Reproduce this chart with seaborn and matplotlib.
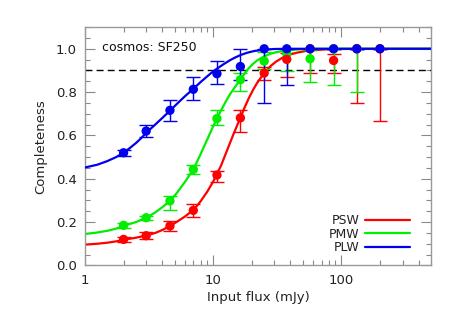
import numpy as np
import pandas as pd
import matplotlib
matplotlib.use("Agg")
import matplotlib.pyplot as plt
from matplotlib.ticker import MultipleLocator, LogLocator, NullFormatter, FixedLocator, FixedFormatter
import seaborn as sns

# ---- measured points ----
psw_x = [2, 3, 4.6, 7, 10.7, 16.3, 25, 37.5, 57, 87, 132, 200]
psw_y = [0.12, 0.137, 0.182, 0.254, 0.417, 0.681, 0.888, 0.951, 1.0, 0.946, 1.0, 1.0]
psw_lo = [0.012, 0.015, 0.025, 0.03, 0.031, 0.065, 0.031, 0.079, 0.111, 0.058, 0.249, 0.333]
psw_hi = [0.012, 0.015, 0.022, 0.03, 0.02, 0.035, 0.027, 0.03, 0.0, 0.03, 0.0, 0.0]

pmw_x = [2, 3, 4.6, 7, 10.7, 16.3, 25, 37.5, 57, 87, 132]
pmw_y = [0.185, 0.22, 0.298, 0.443, 0.678, 0.857, 0.943, 0.977, 0.954, 1.0, 1.0]
pmw_lo = [0.012, 0.01, 0.04, 0.02, 0.028, 0.05, 0.035, 0.08, 0.108, 0.166, 0.2]
pmw_hi = [0.012, 0.01, 0.022, 0.02, 0.038, 0.032, 0.04, 0.02, 0.04, 0.0, 0.0]

plw_x = [2, 3, 4.6, 7, 10.7, 16.3, 25, 37.5, 57, 87, 132, 200]
plw_y = [0.52, 0.62, 0.716, 0.813, 0.885, 0.918, 1.0, 1.0, 1.0, 1.0, 1.0, 1.0]
plw_lo = [0.015, 0.028, 0.048, 0.05, 0.047, 0.06, 0.25, 0.166, 0.0, 0.0, 0.0, 0.0]
plw_hi = [0.015, 0.028, 0.048, 0.055, 0.058, 0.08, 0.0, 0.0, 0.0, 0.0, 0.0, 0.0]

# ---- fitted curves ----
fit_psw_x = [1, 1.25, 1.5, 1.75, 2, 2.5, 3, 3.5, 4, 4.6, 5.2, 6, 7, 7.5, 8, 9, 10,
             11.5, 12.5, 13.5, 14.5, 15.5, 16.3, 17.5, 19, 20.5, 22, 25, 28, 31, 35,
             40, 45, 52, 60, 75, 100, 500]
fit_psw_y = [0.096, 0.1, 0.105, 0.111, 0.118, 0.128, 0.138, 0.149, 0.163, 0.182, 0.201,
             0.225, 0.256, 0.276, 0.297, 0.341, 0.387, 0.46, 0.514, 0.564, 0.61, 0.651,
             0.681, 0.726, 0.773, 0.811, 0.842, 0.888, 0.92, 0.941, 0.96, 0.974, 0.982,
             0.989, 0.993, 0.997, 0.999, 1.0]

fit_pmw_x = [1, 1.25, 1.5, 1.75, 2, 2.5, 3, 3.5, 4, 4.6, 5.2, 6, 7, 7.5, 8, 8.5, 9, 9.5,
             10, 10.7, 11.5, 12.5, 13.5, 14.5, 15.5, 16.3, 17.5, 19, 20.5, 22, 25, 28,
             31, 35, 40, 50, 60, 500]
fit_pmw_y = [0.145, 0.152, 0.16, 0.17, 0.183, 0.2, 0.22, 0.243, 0.268, 0.298, 0.334,
             0.384, 0.443, 0.48, 0.515, 0.55, 0.582, 0.613, 0.642, 0.678, 0.715, 0.755,
             0.789, 0.816, 0.84, 0.857, 0.884, 0.911, 0.931, 0.946, 0.965, 0.977, 0.984,
             0.99, 0.994, 0.998, 1.0, 1.0]

fit_plw_x = [1, 1.25, 1.5, 1.75, 2, 2.25, 2.5, 2.75, 3, 3.5, 4, 4.6, 5.2, 6, 7, 8, 9, 10,
             11, 12, 13.5, 15, 16.5, 18.5, 21, 25, 30, 40, 500]
fit_plw_y = [0.452, 0.465, 0.482, 0.5, 0.52, 0.543, 0.565, 0.588, 0.612, 0.648, 0.68,
             0.714, 0.745, 0.78, 0.815, 0.847, 0.873, 0.896, 0.913, 0.928, 0.947, 0.961,
             0.972, 0.982, 0.99, 0.996, 0.999, 1.0, 1.0]

bands = ["PSW", "PMW", "PLW"]
colors = {"PSW": "#ff0000", "PMW": "#00ee00", "PLW": "#0000ee"}
curve_z = {"PSW": 2.0, "PMW": 2.1, "PLW": 3.5}
err_z = {"PSW": 3.0, "PMW": 3.1, "PLW": 3.2}
pt_z = {"PSW": 4.1, "PMW": 4.0, "PLW": 4.2}

sns.set_style("ticks")
plt.rcParams['font.family'] = ['DejaVu Sans']

fig = plt.figure(figsize=(4.57, 3.19), dpi=100)
ax = fig.add_axes([0.186, 0.168, 0.757, 0.747])

fits = {
    "PSW": (fit_psw_x, fit_psw_y),
    "PMW": (fit_pmw_x, fit_pmw_y),
    "PLW": (fit_plw_x, fit_plw_y),
}
pts = {
    "PSW": (psw_x, psw_y, psw_lo, psw_hi),
    "PMW": (pmw_x, pmw_y, pmw_lo, pmw_hi),
    "PLW": (plw_x, plw_y, plw_lo, plw_hi),
}

for b in bands:
    fx, fy = fits[b]
    df = pd.DataFrame({"x": fx, "y": fy})
    sns.lineplot(data=df, x="x", y="y", ax=ax, color=colors[b], lw=1.6,
                 label=b, estimator=None, sort=True, zorder=curve_z[b])
    x, y, lo, hi = pts[b]
    ax.errorbar(x, y, yerr=[lo, hi], fmt="none", ecolor=colors[b],
                elinewidth=1.0, capsize=5, capthick=1.0, zorder=err_z[b])
    sns.scatterplot(x=x, y=y, ax=ax, color=colors[b], s=45, edgecolor="none",
                    zorder=pt_z[b], legend=False)

ax.axhline(0.9, color="black", lw=1.0, ls=(0, (5, 3)), zorder=1)

ax.set_xscale("log")
ax.set_xlim(1, 500)
ax.set_ylim(0, 1.1)

ax.xaxis.set_major_locator(FixedLocator([1, 10, 100]))
ax.xaxis.set_major_formatter(FixedFormatter(["1", "10", "100"]))
ax.xaxis.set_minor_locator(LogLocator(base=10, subs=np.arange(2, 10)))
ax.xaxis.set_minor_formatter(NullFormatter())
ax.yaxis.set_major_locator(MultipleLocator(0.2))
ax.yaxis.set_minor_locator(MultipleLocator(0.05))
ax.set_yticklabels([f"{v:.1f}" for v in ax.get_yticks()])

ax.tick_params(which="both", direction="in", top=True, right=True, color="#888888",
               labelsize=9.5, labelcolor="#222222", pad=6)
ax.tick_params(which="major", length=7, width=0.8)
ax.tick_params(which="minor", length=3.5, width=0.8)
for s in ax.spines.values():
    s.set_color("#999999")
    s.set_linewidth(1.0)

ax.set_xlabel("Input flux (mJy)", fontsize=9.5, color="#222222", labelpad=3)
ax.set_ylabel("Completeness", fontsize=9.5, color="#222222", labelpad=6)

ax.text(0.05, 0.915, "cosmos: SF250", transform=ax.transAxes, fontsize=9,
        color="#111111", va="center", ha="left")

leg = ax.legend(loc="lower right", bbox_to_anchor=(0.955, 0.025), frameon=False,
                markerfirst=False, handlelength=3.6, handletextpad=0.5,
                fontsize=9, labelspacing=0.05, borderaxespad=0)
for t in leg.get_texts():
    t.set_color("#222222")

fig.savefig("out.png", dpi=100)
